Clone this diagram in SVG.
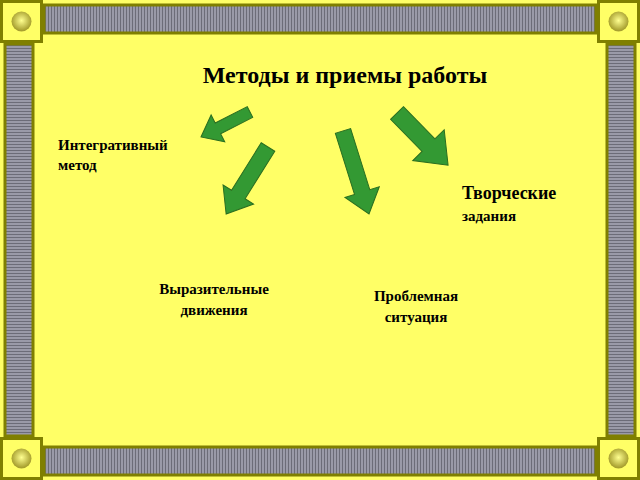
<svg xmlns="http://www.w3.org/2000/svg" width="640" height="480" viewBox="0 0 640 480">
<defs>
<pattern id="stripeV" width="3" height="4" patternUnits="userSpaceOnUse"><rect width="3" height="4" fill="#9a9aa8"/><rect width="1" height="4" fill="#6c6c78"/></pattern>
<pattern id="stripeH" width="4" height="3" patternUnits="userSpaceOnUse"><rect width="4" height="3" fill="#9a9aa8"/><rect width="4" height="1" fill="#6c6c78"/></pattern>
<radialGradient id="ball" cx="0.5" cy="0.45" r="0.5"><stop offset="0" stop-color="#ffff90"/><stop offset="1" stop-color="#a8a030"/></radialGradient>
<g id="corner"><rect x="1.5" y="1.5" width="40" height="40" fill="#ffff66" stroke="#7f7f00" stroke-width="3"/><circle cx="21.5" cy="21.5" r="10" fill="url(#ball)"/></g>
</defs>
<style>.t{font-family:"Liberation Serif",serif;font-weight:bold;fill:#000}.a{fill:#339933;stroke:#2a6e20;stroke-width:1}</style>
<rect width="640" height="480" fill="#ffff66"/>
<g id="frame">
<rect x="44" y="5" width="552" height="28" fill="url(#stripeV)" stroke="#7f7f00" stroke-width="3"/>
<rect x="44" y="447" width="552" height="28" fill="url(#stripeV)" stroke="#7f7f00" stroke-width="3"/>
<rect x="5" y="44" width="28" height="392" fill="url(#stripeH)" stroke="#7f7f00" stroke-width="3"/>
<rect x="607" y="44" width="28" height="392" fill="url(#stripeH)" stroke="#7f7f00" stroke-width="3"/>
<use href="#corner"/><use href="#corner" x="597"/><use href="#corner" y="437"/><use href="#corner" x="597" y="437"/>
</g>
<g id="title"><text class="t" x="345" y="83" font-size="24" text-anchor="middle">Методы и приемы работы</text></g>
<g id="connectors">
<path class="a" transform="translate(250,112) rotate(153)" d="M0,-6 L36,-6 L36,-15 L55,0 L36,15 L36,6 L0,6 Z"/>
<path class="a" transform="translate(268,147) rotate(122)" d="M0,-8 L56,-8 L56,-18 L79,0 L56,18 L56,8 L0,8 Z"/>
<path class="a" transform="translate(343,131) rotate(72.6)" d="M0,-8 L64,-8 L64,-18 L87,0 L64,18 L64,8 L0,8 Z"/>
<path class="a" transform="translate(397,113) rotate(45.6)" d="M0,-9 L45,-9 L45,-22 L73,0 L45,22 L45,9 L0,9 Z"/>
</g>
<g id="n1"><text class="t" font-size="15"><tspan x="58" y="150">Интегративный</tspan><tspan x="58" y="170">метод</tspan></text></g>
<g id="n2"><text class="t" font-size="15" text-anchor="middle"><tspan x="214" y="294">Выразительные</tspan><tspan x="214" y="315">движения</tspan></text></g>
<g id="n3"><text class="t" font-size="15" text-anchor="middle"><tspan x="416" y="301">Проблемная</tspan><tspan x="416" y="322">ситуация</tspan></text></g>
<g id="n4"><text class="t"><tspan x="462" y="199" font-size="18">Творческие</tspan><tspan x="462" y="221" font-size="15">задания</tspan></text></g>
</svg>
